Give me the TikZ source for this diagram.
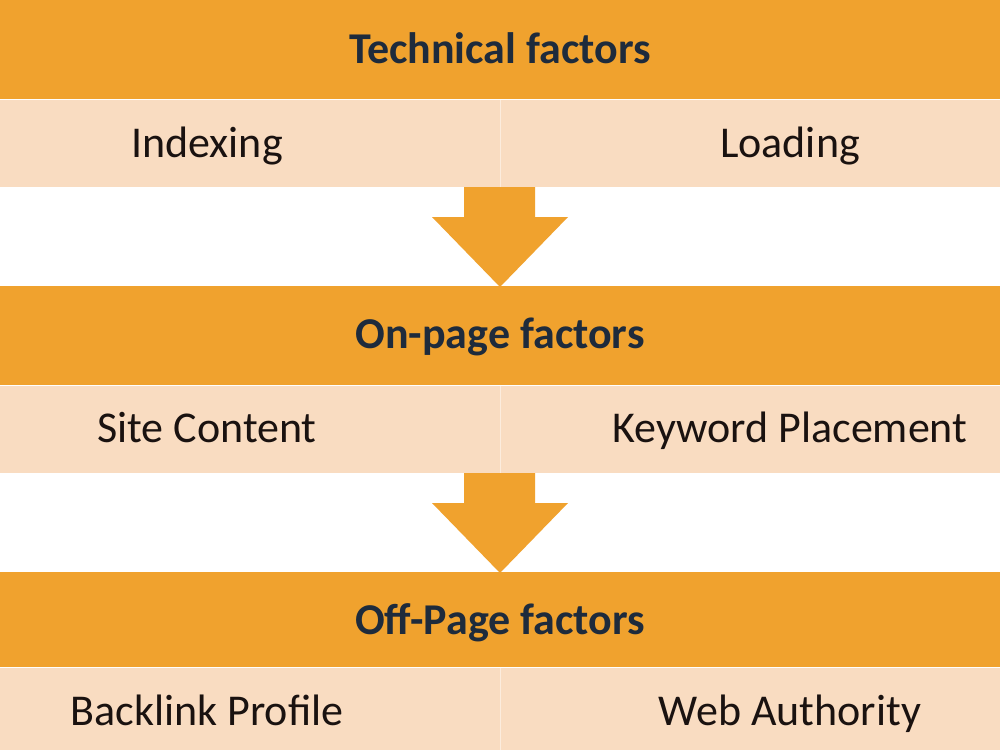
\documentclass[tikz,border=0pt]{standalone}
\usepackage{fontspec}
\setmainfont{Carlito}
\definecolor{orangeband}{HTML}{F0A22E}
\definecolor{lightband}{HTML}{F9DCC1}
\definecolor{titlecol}{HTML}{1E2B3C}
\definecolor{textcol}{HTML}{1A1210}
\tikzset{
  band/.style={fill=orangeband, draw=none},
  lband/.style={fill=lightband, draw=none},
  title/.style={font=\fontsize{44}{50}\selectfont\bfseries, text=titlecol, inner sep=0pt, anchor=base},
  item/.style={font=\fontsize{44}{50}\selectfont, text=textcol, inner sep=0pt, anchor=base},
  divider/.style={draw=white!45!lightband, line width=1pt},
  flowarrow/.style={fill=orangeband, draw=none}
}
\begin{document}
\begin{tikzpicture}[x=1pt,y=-1pt]
\useasboundingbox (0,0) rectangle (1000,750);
\fill[white] (0,0) rectangle (1000,750);
% bands
\fill[band] (0,0) rectangle (1000,99);
\fill[lband] (0,100) rectangle (1000,187);
\fill[band] (0,286) rectangle (1000,385);
\fill[lband] (0,386) rectangle (1000,473);
\fill[band] (0,572) rectangle (1000,667);
\fill[lband] (0,668) rectangle (1000,750);
% dividers
\draw[divider] (500,100) -- (500,187);
\draw[divider] (500,386) -- (500,473);
\draw[divider] (500,668) -- (500,750);
% arrows
\fill[flowarrow] (464,187) -- (535,187) -- (535,217) -- (568,217) -- (500,287) -- (432,217) -- (464,217) -- cycle;
\fill[flowarrow] (464,473) -- (535,473) -- (535,503) -- (568,503) -- (500,573) -- (432,503) -- (464,503) -- cycle;
% texts
\node[title] (t1) at (500,63) {Technical factors};
\node[item] (i1) at (207,157) {Indexing};
\node[item] (l1) at (790,157) {Loading};
\node[title] (t2) at (500,348) {On-page factors};
\node[item] (s2) at (207,442) {Site Content};
\node[item] (k2) at (790,442) {Keyword Placement};
\node[title] (t3) at (500,634) {Off-Page factors};
\node[item] (b3) at (207,725) {Backlink Profile};
\node[item] (w3) at (790,725) {Web Authority};
\end{tikzpicture}
\end{document}
